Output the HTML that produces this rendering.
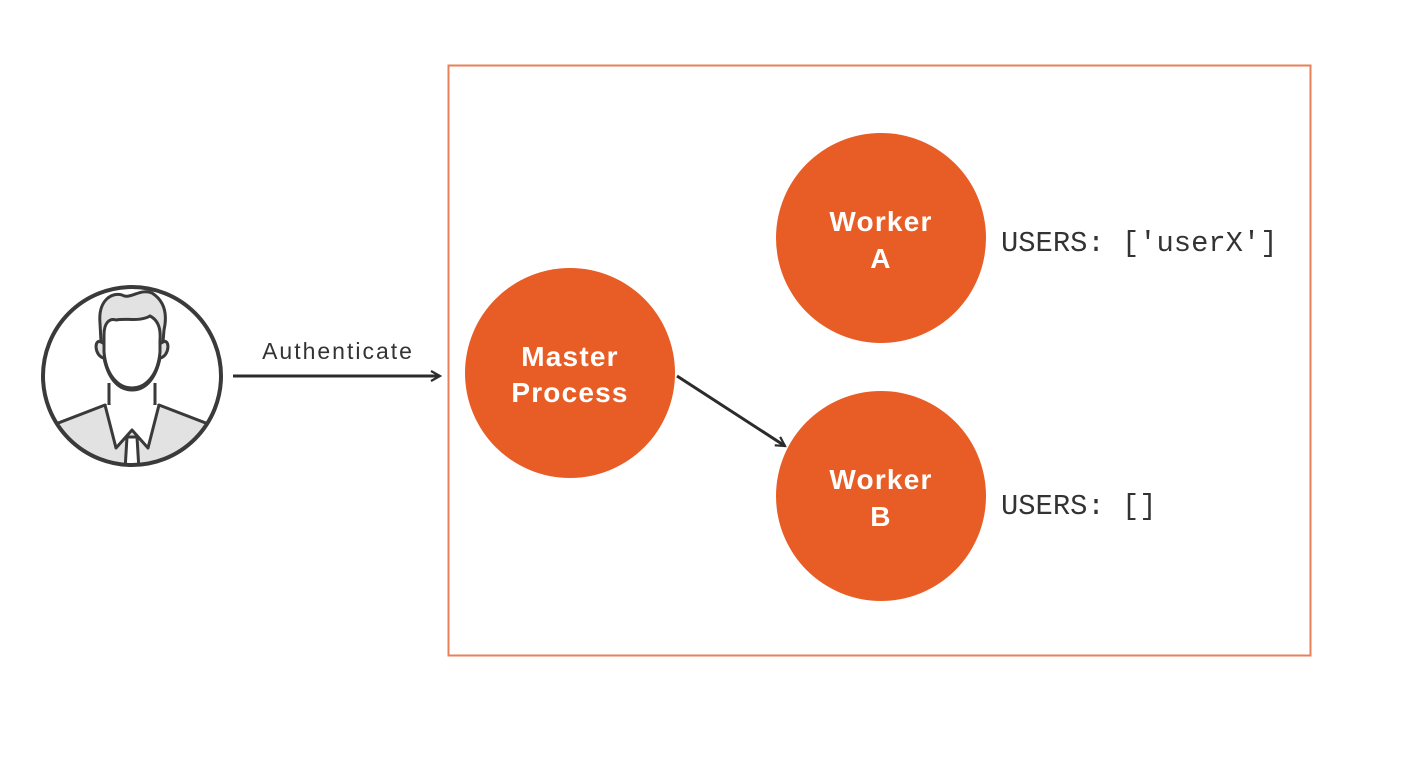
<!DOCTYPE html>
<html><head><meta charset="utf-8"><style>
html,body{margin:0;padding:0;background:#fff;}
body{width:1418px;height:756px;overflow:hidden;}
</style></head><body>
<svg width="1418" height="756" viewBox="0 0 1418 756" xmlns="http://www.w3.org/2000/svg">
<defs>
<marker id="ah" viewBox="0 0 12 12" refX="10" refY="6" markerWidth="12" markerHeight="12" markerUnits="userSpaceOnUse" orient="auto">
<path d="M1,1 L10,6 L1,11" fill="none" stroke="#2b2b2b" stroke-width="2.2"/>
</marker>
<clipPath id="pc"><circle cx="132" cy="376" r="88"/></clipPath>
</defs>
<rect x="448.5" y="65.5" width="862" height="590" fill="none" stroke="#e8805a" stroke-width="2"/>
<g clip-path="url(#pc)" stroke="#3a3a3a" stroke-width="3" stroke-linejoin="round">
<path d="M40,430 L105,405 L132,430 L159,405 L224,430 L224,480 L40,480 Z" fill="#e2e2e2"/>
<path d="M109,383 L109,405 L132,430 L155,405 L155,383" fill="#fff"/>
<path d="M105,405 L116,448 L132,430 L148,448 L159,405" fill="#fff"/>
<path d="M127,437 L137,437 L139,470 L125,470 Z" fill="#fff"/>
</g>
<path d="M100,323 C98,300 112,292 122,295 C130,300 140,288 152,293 C163,300 168,312 164,330 L163,342 C170,338 170,356 160,358 C156,378 146,390 132,390 C118,390 108,378 104,358 C94,356 94,338 101,342 Z" fill="#e2e2e2" stroke="#3a3a3a" stroke-width="3"/>
<path d="M104,335 C104,322 110,318 116,320 C126,318 140,322 150,316 C158,320 161,328 160,340 L160,352 C158,375 146,388 132,388 C118,388 106,375 104,352 Z" fill="#fff" stroke="#3a3a3a" stroke-width="3"/>
<circle cx="132" cy="376" r="89" fill="none" stroke="#3a3a3a" stroke-width="4"/>
<line x1="233" y1="376" x2="440" y2="376" stroke="#2b2b2b" stroke-width="3" marker-end="url(#ah)"/>
<text x="338" y="359" text-anchor="middle" font-family="Liberation Sans, sans-serif" font-size="23" letter-spacing="2" fill="#333">Authenticate</text>
<g fill="#e85d25">
<circle cx="570" cy="373" r="105"/>
<circle cx="881" cy="238" r="105"/>
<circle cx="881" cy="496" r="105"/>
</g>
<g font-family="Liberation Sans, sans-serif" font-weight="bold" font-size="28" letter-spacing="1.2" fill="#fff" text-anchor="middle">
<text x="570" y="366">Master</text>
<text x="570" y="402">Process</text>
<text x="881" y="231">Worker</text>
<text x="881" y="268">A</text>
<text x="881" y="489">Worker</text>
<text x="881" y="526">B</text>
</g>
<line x1="677" y1="376" x2="785" y2="446" stroke="#2b2b2b" stroke-width="3" marker-end="url(#ah)"/>
<g font-family="Liberation Mono, monospace" font-size="28.8" fill="#333">
<text x="1001" y="251">USERS: ['userX']</text>
<text x="1001" y="514">USERS: []</text>
</g>
</svg>
</body></html>
